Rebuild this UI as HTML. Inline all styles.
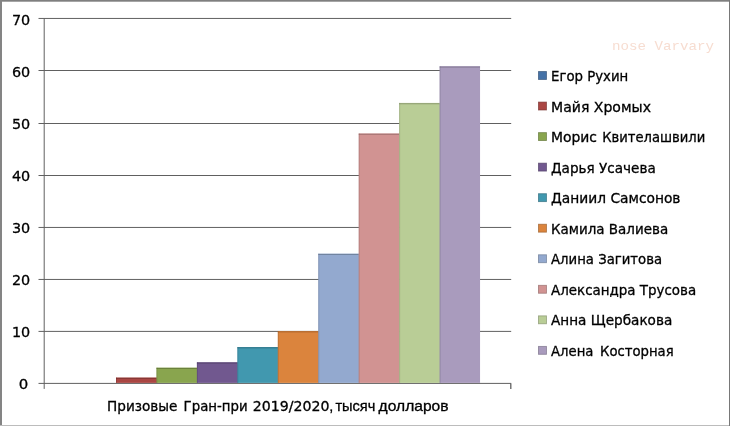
<!DOCTYPE html>
<html lang="ru"><head><meta charset="utf-8"><title>Призовые Гран-при 2019/2020</title>
<style>html,body{margin:0;padding:0;background:#fff;overflow:hidden}svg{display:block}text{font-family:"DejaVu Sans","Liberation Sans",sans-serif;fill:#000;stroke:#000;stroke-width:0.3px}.wm{font-family:"Liberation Mono",monospace;fill:#f7ddd1;stroke:none}.lib{font-family:"Liberation Sans",sans-serif}</style></head><body>
<svg width="730" height="426" viewBox="0 0 730 426">
<rect x="0" y="0" width="730" height="426" fill="#fff"/>
<line x1="38.5" y1="383.40" x2="511.2" y2="383.40" stroke="#606060" stroke-width="1"/>
<line x1="38.5" y1="331.40" x2="511.2" y2="331.40" stroke="#606060" stroke-width="1"/>
<line x1="38.5" y1="279.45" x2="511.2" y2="279.45" stroke="#606060" stroke-width="1"/>
<line x1="38.5" y1="227.45" x2="511.2" y2="227.45" stroke="#606060" stroke-width="1"/>
<line x1="38.5" y1="175.50" x2="511.2" y2="175.50" stroke="#606060" stroke-width="1"/>
<line x1="38.5" y1="123.50" x2="511.2" y2="123.50" stroke="#606060" stroke-width="1"/>
<line x1="38.5" y1="70.50" x2="511.2" y2="70.50" stroke="#606060" stroke-width="1"/>
<line x1="38.5" y1="18.45" x2="511.2" y2="18.45" stroke="#606060" stroke-width="1"/>
<line x1="44.2" y1="18.4" x2="44.2" y2="388.9" stroke="#606060" stroke-width="1"/>
<line x1="510.8" y1="383.4" x2="510.8" y2="388.9" stroke="#606060" stroke-width="1.3"/>
<rect x="116.00" y="377.50" width="41.15" height="5.40" fill="#AA4643"/>
<path d="M116.50 382.90V377.50" fill="none" stroke="#662a28" stroke-width="1" stroke-opacity="0.3"/>
<path d="M116.00 378.35H156.45" fill="none" stroke="#5d2624" stroke-width="0.8" stroke-opacity="0.65"/>
<rect x="156.45" y="367.60" width="41.15" height="15.30" fill="#89A54E"/>
<path d="M156.95 382.90V367.60" fill="none" stroke="#52632e" stroke-width="1" stroke-opacity="0.3"/>
<path d="M156.45 368.45H196.90" fill="none" stroke="#4b5a2a" stroke-width="0.8" stroke-opacity="0.65"/>
<rect x="196.90" y="362.20" width="41.15" height="20.70" fill="#71588F"/>
<path d="M197.40 382.90V362.20" fill="none" stroke="#433455" stroke-width="1" stroke-opacity="0.3"/>
<path d="M196.90 363.05H237.35" fill="none" stroke="#3e304e" stroke-width="0.8" stroke-opacity="0.65"/>
<rect x="237.35" y="347.00" width="41.15" height="35.90" fill="#4198AF"/>
<path d="M237.85 382.90V347.00" fill="none" stroke="#275b69" stroke-width="1" stroke-opacity="0.3"/>
<path d="M237.35 347.85H277.80" fill="none" stroke="#235360" stroke-width="0.8" stroke-opacity="0.65"/>
<rect x="277.80" y="331.00" width="41.15" height="51.90" fill="#DB843D"/>
<path d="M278.30 382.90V331.00" fill="none" stroke="#834f24" stroke-width="1" stroke-opacity="0.3"/>
<path d="M277.80 331.85H318.25" fill="none" stroke="#784821" stroke-width="0.8" stroke-opacity="0.65"/>
<rect x="318.25" y="253.60" width="41.15" height="129.30" fill="#93A9CF"/>
<path d="M318.75 382.90V253.60" fill="none" stroke="#58657c" stroke-width="1" stroke-opacity="0.3"/>
<path d="M318.25 254.45H358.70" fill="none" stroke="#505c71" stroke-width="0.8" stroke-opacity="0.65"/>
<rect x="358.70" y="133.40" width="41.15" height="249.50" fill="#D19392"/>
<path d="M359.20 382.90V133.40" fill="none" stroke="#7d5857" stroke-width="1" stroke-opacity="0.3"/>
<path d="M358.70 134.25H399.15" fill="none" stroke="#725050" stroke-width="0.8" stroke-opacity="0.65"/>
<rect x="399.15" y="102.90" width="41.15" height="280.00" fill="#B9CD96"/>
<path d="M399.65 382.90V102.90" fill="none" stroke="#6f7b5a" stroke-width="1" stroke-opacity="0.3"/>
<path d="M399.15 103.75H439.60" fill="none" stroke="#657052" stroke-width="0.8" stroke-opacity="0.65"/>
<rect x="439.60" y="66.20" width="40.45" height="316.70" fill="#A99BBD"/>
<path d="M440.10 382.90V66.20" fill="none" stroke="#655d71" stroke-width="1" stroke-opacity="0.3"/>
<path d="M439.60 67.05H480.05" fill="none" stroke="#5c5567" stroke-width="0.8" stroke-opacity="0.65"/>
<text x="18.85" y="389" font-size="14" textLength="9.5" lengthAdjust="spacingAndGlyphs">0</text>
<text x="11.9" y="337" font-size="14" textLength="18.3" lengthAdjust="spacingAndGlyphs">10</text>
<text x="11.9" y="285" font-size="14" textLength="18.3" lengthAdjust="spacingAndGlyphs">20</text>
<text x="11.9" y="233" font-size="14" textLength="18.3" lengthAdjust="spacingAndGlyphs">30</text>
<text x="11.9" y="181" font-size="14" textLength="18.3" lengthAdjust="spacingAndGlyphs">40</text>
<text x="11.9" y="129" font-size="14" textLength="18.3" lengthAdjust="spacingAndGlyphs">50</text>
<text x="11.9" y="77" font-size="14" textLength="18.3" lengthAdjust="spacingAndGlyphs">60</text>
<text x="11.9" y="25" font-size="14" textLength="18.3" lengthAdjust="spacingAndGlyphs">70</text>
<rect x="538.45" y="71.55" width="8" height="7.9" fill="#4572A7" stroke="#304f74" stroke-width="0.9" stroke-opacity="0.7"/>
<text x="551.0" y="81" font-size="14" textLength="77.3" lengthAdjust="spacingAndGlyphs">Егор Рухин</text>
<rect x="538.45" y="102.09" width="8" height="7.9" fill="#AA4643" stroke="#76312e" stroke-width="0.9" stroke-opacity="0.7"/>
<text x="551.0" y="112" font-size="14" textLength="100.0" lengthAdjust="spacingAndGlyphs">Майя Хромых</text>
<rect x="538.45" y="132.63" width="8" height="7.9" fill="#89A54E" stroke="#5f7336" stroke-width="0.9" stroke-opacity="0.7"/>
<text y="142" font-size="14"><tspan x="551.0" textLength="46" lengthAdjust="spacingAndGlyphs">Морис</tspan> <tspan x="602.2" textLength="103.1" lengthAdjust="spacingAndGlyphs">Квителашвили</tspan></text>
<rect x="538.45" y="163.17" width="8" height="7.9" fill="#71588F" stroke="#4f3d64" stroke-width="0.9" stroke-opacity="0.7"/>
<text x="551.0" y="173" font-size="14" textLength="104.8" lengthAdjust="spacingAndGlyphs">Дарья Усачева</text>
<rect x="538.45" y="193.71" width="8" height="7.9" fill="#4198AF" stroke="#2d6a7a" stroke-width="0.9" stroke-opacity="0.7"/>
<text x="551.0" y="203" font-size="14" textLength="129.5" lengthAdjust="spacingAndGlyphs">Даниил Самсонов</text>
<rect x="538.45" y="224.25" width="8" height="7.9" fill="#DB843D" stroke="#995c2a" stroke-width="0.9" stroke-opacity="0.7"/>
<text x="551.0" y="234" font-size="14" textLength="117.2" lengthAdjust="spacingAndGlyphs">Камила Валиева</text>
<rect x="538.45" y="254.79" width="8" height="7.9" fill="#93A9CF" stroke="#667690" stroke-width="0.9" stroke-opacity="0.7"/>
<text x="551.0" y="264" font-size="14" textLength="111.1" lengthAdjust="spacingAndGlyphs">Алина Загитова</text>
<rect x="538.45" y="285.33" width="8" height="7.9" fill="#D19392" stroke="#926666" stroke-width="0.9" stroke-opacity="0.7"/>
<text x="551.0" y="295" font-size="14" textLength="145.2" lengthAdjust="spacingAndGlyphs">Александра Трусова</text>
<rect x="538.45" y="315.87" width="8" height="7.9" fill="#B9CD96" stroke="#818f69" stroke-width="0.9" stroke-opacity="0.7"/>
<text x="551.0" y="325" font-size="14" textLength="121.3" lengthAdjust="spacingAndGlyphs">Анна Щербакова</text>
<rect x="538.45" y="346.41" width="8" height="7.9" fill="#A99BBD" stroke="#766c84" stroke-width="0.9" stroke-opacity="0.7"/>
<text x="551.0" y="356" font-size="14" textLength="122.7" lengthAdjust="spacingAndGlyphs" style="word-spacing:2.5px">Алена Косторная</text>
<text y="411.0" font-size="13.8"><tspan x="107" textLength="70.5" lengthAdjust="spacingAndGlyphs">Призовые</tspan> <tspan x="183.6" textLength="64" lengthAdjust="spacingAndGlyphs">Гран-при</tspan> <tspan x="252.8" textLength="76.6" lengthAdjust="spacingAndGlyphs">2019/2020</tspan><tspan class="lib" font-size="14.5" x="329.3">,</tspan> <tspan class="lib" font-size="14.5" x="335.4" textLength="40" lengthAdjust="spacingAndGlyphs">тысяч</tspan> <tspan class="lib" font-size="14.5" x="378.6" textLength="70" lengthAdjust="spacingAndGlyphs">долларов</tspan></text>
<text class="wm" x="612" y="50" font-size="13.6" textLength="102" lengthAdjust="spacingAndGlyphs">nose Varvary</text>
<rect x="0" y="0" width="730" height="1.7" fill="#7f7f7f"/>
<rect x="0" y="0" width="2" height="426" fill="#848484"/>
<rect x="729" y="0" width="1" height="426" fill="#787878"/>
<rect x="0" y="425" width="729" height="1" fill="#bcbcbc"/>
</svg></body></html>
